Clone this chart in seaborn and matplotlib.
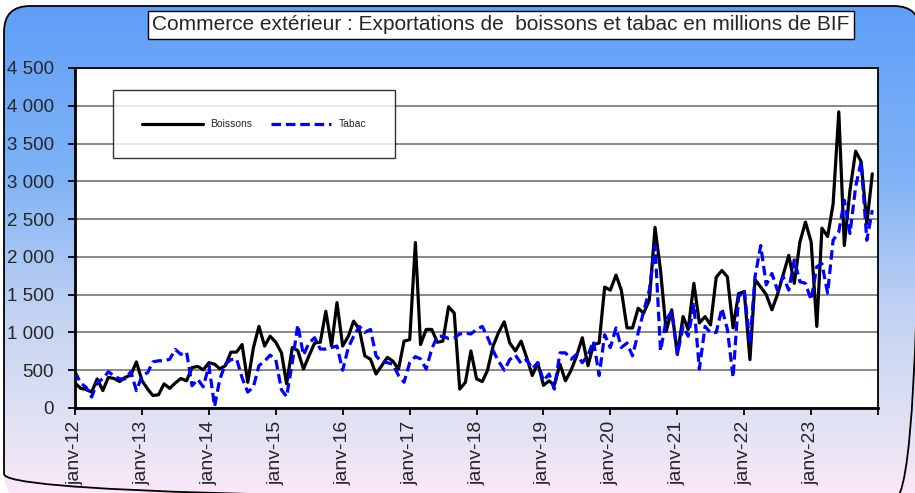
import numpy as np
import pandas as pd
import matplotlib
matplotlib.use('Agg')
import matplotlib.pyplot as plt
import matplotlib.ticker as mticker
from matplotlib.patches import FancyBboxPatch
from matplotlib.colors import LinearSegmentedColormap
import seaborn as sns

# Monthly exports, millions of BIF (janv-12 .. dec-23)
boissons = [
    330, 260, 245, 210, 385, 230, 405, 390, 350, 405, 435, 610,        # 2012
    360, 250, 165, 175, 320, 260, 330, 390, 360, 535, 550, 505,        # 2013
    600, 580, 520, 560, 740, 740, 840, 340, 800, 1080, 820, 950,       # 2014
    870, 730, 320, 800, 760, 515, 690, 860, 870, 1280, 820, 1395,      # 2015
    820, 950, 1150, 1040, 690, 645, 450, 560, 670, 620, 515, 885,      # 2016
    905, 2190, 840, 1040, 1040, 870, 885, 1340, 1255, 250, 340, 755,   # 2017
    385, 350, 495, 820, 1000, 1140, 860, 755, 885, 670, 430, 600,      # 2018
    300, 360, 300, 580, 360, 500, 690, 930, 560, 840, 860, 1600,       # 2019
    1560, 1760, 1560, 1060, 1060, 1320, 1255, 1430, 2390, 1820, 1015, 1300,  # 2020
    710, 1210, 1040, 1650, 1125, 1210, 1100, 1730, 1820, 1735, 1060, 1515,   # 2021
    1540, 640, 1700, 1600, 1500, 1300, 1500, 1760, 2020, 1650, 2200, 2460,   # 2022
    2200, 1080, 2380, 2270, 2700, 3920, 2150, 2880, 3400, 3260, 2440, 3100,  # 2023
]
tabac = [
    480, 330, 275, 145, 340, 385, 480, 425, 385, 385, 480, 230,        # 2012
    425, 470, 610, 625, 625, 645, 775, 710, 740, 295, 380, 280,        # 2013
    560, 20, 380, 580, 640, 650, 400, 210, 280, 560, 620, 700,         # 2014
    640, 240, 150, 600, 1100, 700, 860, 930, 780, 780, 800, 820,       # 2015
    500, 800, 950, 1080, 1000, 1040, 690, 610, 600, 580, 430, 340,     # 2016
    600, 680, 650, 515, 780, 950, 950, 920, 930, 980, 990, 980,        # 2017
    1040, 1080, 940, 760, 620, 500, 640, 700, 590, 640, 520, 600,      # 2018
    360, 450, 250, 730, 730, 645, 710, 600, 700, 885, 430, 970,        # 2019
    800, 1060, 800, 860, 690, 995, 1280, 1560, 2150, 755, 1170, 1280,  # 2020
    710, 1080, 950, 1370, 515, 1080, 995, 1000, 1320, 1040, 405, 1470, # 2021
    1560, 855, 1740, 2150, 1630, 1780, 1560, 1740, 1560, 1960, 1670, 1650,  # 2022
    1430, 1870, 1910, 1520, 2220, 2330, 2750, 2310, 2930, 3260, 2220, 2620, # 2023
]
months = pd.date_range('2012-01-01', periods=len(boissons), freq='MS')
year_ticks = pd.date_range('2012-01-01', '2024-01-01', freq='YS')
year_labels = [f'janv-{d.year % 100:02d}' for d in year_ticks[:-1]] + ['']

title = 'Commerce extérieur : Exportations de  boissons et tabac en millions de BIF'

sns.set_style('white')
plt.rcParams['font.family'] = ['Liberation Sans', 'DejaVu Sans']

W, H = 915, 493
fig = plt.figure(figsize=(W / 100, H / 100), dpi=100)
fig.patch.set_facecolor('white')

# rounded gradient background
bg = fig.add_axes([0, 0, 1, 1], zorder=-10)
bg.set_xlim(0, W)
bg.set_ylim(H, 0)
bg.axis('off')
cmap = LinearSegmentedColormap.from_list('bg', [
    (0.0, '#5f9ff8'), (0.35, '#80b3f6'), (0.62, '#c2d2f2'),
    (0.85, '#e2e2f4'), (1.0, '#fde8f8')])
grad = np.linspace(0, 1, 256).reshape(-1, 1)
box = FancyBboxPatch((4, 6), 916, 494, boxstyle='round,pad=0,rounding_size=26',
                     facecolor='none', edgecolor='black', lw=1.3, zorder=2)
bg.add_patch(box)
im = bg.imshow(grad, cmap=cmap, aspect='auto', extent=(4, 920, 500, 6), zorder=1)
im.set_clip_path(box)

# plot area
ax = fig.add_axes([75 / W, 1 - 408 / H, 803 / W, 340 / H])
ax.set_facecolor('white')
sns.lineplot(x=months, y=boissons, color='black', lw=2.3, label='Boissons', ax=ax)
sns.lineplot(x=months, y=tabac, color='#0000ff', lw=2.3, label='Tabac', ax=ax,
             linestyle=(0, (3, 1.5)))

ax.set_xlim(year_ticks[0], year_ticks[-1])
ax.set_ylim(0, 4500)
ax.set_yticks(np.arange(0, 4501, 500))
ax.yaxis.set_major_formatter(mticker.FuncFormatter(lambda v, p: f'{int(v):,}'.replace(',', ' ')))
ax.set_xticks(year_ticks)
ax.set_xticklabels(year_labels, rotation=90, va='top')
ax.grid(axis='y', color='#808080', lw=1.3)
ax.set_axisbelow(True)
ax.set_xlabel('')
ax.set_ylabel('')
ax.tick_params(axis='y', direction='out', length=5, width=1.3, color='black',
               labelsize=13.5, pad=10, left=True)
ax.tick_params(axis='x', direction='out', length=5, width=1.3, color='black',
               labelsize=14, pad=4, bottom=True)
for s in ax.spines.values():
    s.set_visible(True)
    s.set_color('black')
    s.set_linewidth(1.3)
ax.spines['left'].set_linewidth(2)
ax.spines['bottom'].set_linewidth(2)

leg = ax.legend(loc='upper left', bbox_to_anchor=(38 / 803, 1 - 22 / 340),
                ncol=2, fontsize=7.5, frameon=True, fancybox=False,
                edgecolor='black', borderpad=2.8, handlelength=5.8,
                handletextpad=0.7, columnspacing=1.8, borderaxespad=0)
leg.get_frame().set_linewidth(1.0)

fig.text(501 / W, 1 - 25 / H, title, ha='center', va='center', fontsize=15,
         bbox=dict(facecolor='white', edgecolor='black', lw=1.0,
                   boxstyle='square,pad=0.22'))

fig.savefig('out.png', dpi=100)
